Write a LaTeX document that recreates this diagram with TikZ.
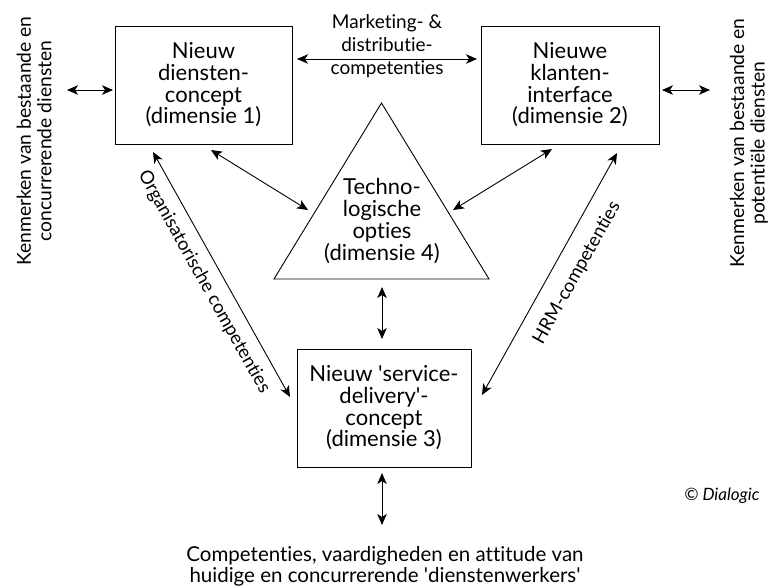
\documentclass[tikz,border=0pt]{standalone}
\usepackage{fontspec}
\setmainfont{Lato}[Ligatures={NoCommon}]
\usetikzlibrary{arrows.meta,calc}
\begin{document}
\begin{tikzpicture}[x=1pt,y=-1pt,
  box/.style={draw,line width=0.9pt,minimum width=177pt,minimum height=118pt,inner sep=0pt,align=center,font=\fontsize{22}{21.7}\selectfont},
  lbl/.style={align=center,inner sep=0pt,font=\fontsize{19.5}{21.5}\selectfont},
  diag/.style={inner sep=0pt,font=\fontsize{18.5}{20}\selectfont},
  tip/.tip={Stealth[length=11pt,width=9.5pt,inset=3pt]},
  conn/.style={line width=0.9pt,tip-tip}]
\useasboundingbox (0,0) rectangle (770,587);

% boxes
\node[box] (b1) at (203.5,85) {Nieuw\\diensten-\\concept\\(dimensie 1)};
\node[box,minimum width=178pt] (b2) at (570,85) {Nieuwe\\klanten-\\interface\\(dimensie 2)};
\node[box,minimum width=174pt] (b3) at (384,408) {Nieuw \textquotesingle service-\\delivery\textquotesingle-\\concept\\(dimensie 3)};

% triangle
\draw[line width=0.9pt] (274,279) coordinate (tl) -- (381.5,103) coordinate (tt) -- (489,279) coordinate (tr) -- cycle;
\node[lbl,font=\fontsize{22}{21.7}\selectfont] (t4) at (382,221) {Techno-\\logische\\opties\\(dimensie 4)};

% labels
\node[lbl,font=\fontsize{19}{23}\selectfont] (mk) at (387,46) {Marketing- \&\\distributie-\\competenties};
\node[lbl,rotate=90,font=\fontsize{19.3}{20.5}\selectfont] (kl) at (34,141) {Kenmerken van bestaande en\\concurrerende diensten};
\node[lbl,rotate=90,font=\fontsize{19.3}{20.5}\selectfont] (kr) at (749,143) {Kenmerken van bestaande en\\potentiële diensten};
\node[lbl,font=\fontsize{20.5}{21}\selectfont] (bt) at (385,566) {Competenties, vaardigheden en attitude van\\huidige en concurrerende \textquotesingle dienstenwerkers\textquotesingle};
\node[font=\fontsize{17}{18}\selectfont\itshape,inner sep=0pt] (cr) at (722,496) {© Dialogic};
\node[diag,rotate=-60.8] (org) at (204,282) {Organisatorische competenties};
\node[diag,rotate=60.8] (hrm) at (577,273) {HRM-competenties};

% connector end points
\coordinate (l1) at (67,90);   \coordinate (l2) at (113,90);
\coordinate (r1) at (662,90);  \coordinate (r2) at (710,90);
\coordinate (m1) at (297,59);  \coordinate (m2) at (477,59);
\coordinate (a1) at (211,150); \coordinate (a2) at (308,210);
\coordinate (c1) at (453,210); \coordinate (c2) at (552,149);
\coordinate (v1) at (382,287); \coordinate (v2) at (382,339);
\coordinate (w1) at (382,473); \coordinate (w2) at (382,525);
\coordinate (o1) at (153,152); \coordinate (o2) at (290,397);
\coordinate (h1) at (617,153); \coordinate (h2) at (482,395);

\draw[conn] (l1) -- (l2);
\draw[conn] (r1) -- (r2);
\draw[conn] (m1) -- (m2);
\draw[conn] (a1) -- (a2);
\draw[conn] (c1) -- (c2);
\draw[conn] (v1) -- (v2);
\draw[conn] (w1) -- (w2);
\draw[conn] (o1) -- (o2);
\draw[conn] (h1) -- (h2);
\end{tikzpicture}
\end{document}
